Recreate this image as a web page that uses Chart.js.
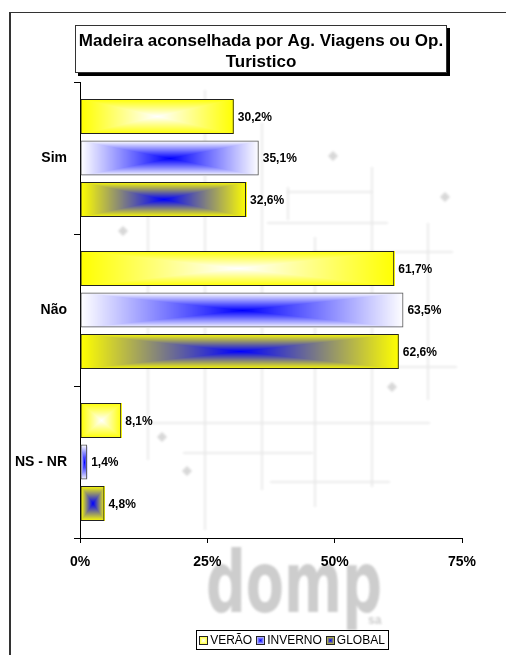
<!DOCTYPE html>
<html lang="pt">
<head>
<meta charset="utf-8">
<title>Madeira aconselhada por Ag. Viagens ou Op. Turistico</title>
<script src="https://cdn.jsdelivr.net/npm/chart.js@4.4.1/dist/chart.umd.min.js"></script>
<style>
  html, body { margin: 0; padding: 0; background: #fff; }
  #grafico { display: block; }
</style>
</head>
<body>
<canvas id="grafico" width="506" height="655"></canvas>
<script>
// dados do inquérito (%)
const categorias = ["Sim", "Não", "NS - NR"];
const series = ["VERÃO", "INVERNO", "GLOBAL"];
const verao = [30.2, 61.7, 8.1];
const inverno = [35.1, 63.5, 1.4];
const valoresGlobal = [32.6, 62.6, 4.8];
const ticksX = [0, 25, 50, 75];
const tituloLinhas = ["Madeira aconselhada por Ag. Viagens ou Op.", "Turistico"];

// cores do preenchimento "do centro" (borda -> centro)
const AMARELO = [255, 255, 0];
const BRANCO = [255, 255, 255];
const AZUL = [0, 0, 255];
const estilos = [
  { borda: AMARELO, centro: BRANCO, linha: "#222" },
  { borda: BRANCO, centro: AZUL, linha: "#555" },
  { borda: AMARELO, centro: AZUL, linha: "#222" }
];
const FONTE = "'Liberation Sans', Arial, sans-serif";

// preenche um rectângulo com gradiente rectangular a partir do centro
function preencherRetangulo(ctx, x, y, w, h, corBorda, corCentro) {
  w = Math.round(w);
  h = Math.round(h);
  if (w < 1 || h < 1) return;
  const off = document.createElement("canvas");
  off.width = w;
  off.height = h;
  const octx = off.getContext("2d");
  const img = octx.createImageData(w, h);
  for (let j = 0; j < h; j++) {
    const v = Math.abs(j + 0.5 - h / 2) / (h / 2);
    for (let i = 0; i < w; i++) {
      const u = Math.abs(i + 0.5 - w / 2) / (w / 2);
      const t = Math.min(1, Math.max(u, v));
      const k = (j * w + i) * 4;
      img.data[k] = corCentro[0] + (corBorda[0] - corCentro[0]) * t;
      img.data[k + 1] = corCentro[1] + (corBorda[1] - corCentro[1]) * t;
      img.data[k + 2] = corCentro[2] + (corBorda[2] - corCentro[2]) * t;
      img.data[k + 3] = 255;
    }
  }
  octx.putImageData(img, 0, 0);
  ctx.drawImage(off, Math.round(x), Math.round(y));
}

function formatarPct(v) {
  return v.toFixed(1).replace(".", ",") + "%";
}

// marca de água (planta e logótipo) + caixa do título
const fundo = {
  id: "fundo",
  beforeDraw(chart) {
    const ctx = chart.ctx;
    ctx.save();
    ctx.fillStyle = "#fff";
    ctx.fillRect(0, 0, chart.width, chart.height);

    // planta esbatida
    ctx.filter = "blur(0.8px)";
    ctx.strokeStyle = "#e6e6e6";
    ctx.lineWidth = 1.5;
    const linhas = [
      [205, 90, 205, 530], [262, 123, 262, 490], [148, 213, 148, 460],
      [315, 237, 315, 507], [372, 167, 372, 487], [428, 223, 428, 400],
      [288, 187, 288, 220], [287, 192, 372, 192], [267, 223, 388, 223],
      [313, 252, 453, 252], [267, 367, 457, 367], [147, 423, 430, 423],
      [183, 453, 313, 453], [270, 482, 390, 482]
    ];
    linhas.forEach(([x1, y1, x2, y2]) => {
      ctx.beginPath();
      ctx.moveTo(x1, y1);
      ctx.lineTo(x2, y2);
      ctx.stroke();
    });
    ctx.fillStyle = "#d8d8d8";
    [[333, 156], [123, 231], [445, 197], [392, 387], [187, 471], [162, 437]].forEach(([x, y]) => {
      ctx.beginPath();
      ctx.moveTo(x, y - 5);
      ctx.lineTo(x + 5, y);
      ctx.lineTo(x, y + 5);
      ctx.lineTo(x - 5, y);
      ctx.closePath();
      ctx.fill();
    });

    // logótipo
    ctx.fillStyle = "#cdcdcd";
    ctx.font = "bold 86px 'DejaVu Sans', sans-serif";
    ctx.textBaseline = "alphabetic";
    const largLogo = ctx.measureText("domp").width;
    ctx.save();
    ctx.translate(206, 612);
    ctx.scale(176 / largLogo, 1);
    ctx.fillText("domp", 0, 0);
    ctx.restore();
    ctx.font = "bold 12px " + FONTE;
    ctx.fillText("sa", 368, 624);
    ctx.filter = "none";

    // moldura exterior
    ctx.strokeStyle = "#333";
    ctx.lineWidth = 1;
    ctx.beginPath();
    ctx.moveTo(9, 12.5);
    ctx.lineTo(chart.width, 12.5);
    ctx.stroke();
    ctx.lineWidth = 2;
    ctx.beginPath();
    ctx.moveTo(10, 12);
    ctx.lineTo(10, chart.height);
    ctx.stroke();

    // caixa do título com sombra
    const bx = 75, by = 25, bw = 372, bh = 48;
    ctx.fillStyle = "#000";
    ctx.fillRect(bx + 3, by + 3, bw, bh);
    ctx.fillStyle = "#fff";
    ctx.fillRect(bx, by, bw, bh);
    ctx.strokeStyle = "#333";
    ctx.lineWidth = 1;
    ctx.strokeRect(bx + 0.5, by + 0.5, bw - 1, bh - 1);
    ctx.fillStyle = "#000";
    ctx.font = "bold 17px " + FONTE;
    ctx.textAlign = "center";
    ctx.textBaseline = "middle";
    tituloLinhas.forEach((t, i) => ctx.fillText(t, bx + bw / 2, 41 + i * 21));
    ctx.restore();
  }
};

// barras com gradiente rectangular (o contorno é desenhado pelo Chart.js)
const gradienteBarras = {
  id: "gradienteBarras",
  beforeDatasetsDraw(chart) {
    const ctx = chart.ctx;
    chart.data.datasets.forEach((ds, i) => {
      const meta = chart.getDatasetMeta(i);
      const est = estilos[i];
      meta.data.forEach((el) => {
        const p = el.getProps(["x", "y", "base", "height"], true);
        const left = Math.min(p.base, p.x);
        const w = Math.abs(p.x - p.base);
        preencherRetangulo(ctx, left, p.y - p.height / 2, w, p.height, est.borda, est.centro);
      });
    });
  },
  afterDatasetsDraw(chart) {
    const ctx = chart.ctx;
    ctx.save();
    ctx.fillStyle = "#000";
    ctx.font = "bold 12px " + FONTE;
    ctx.textAlign = "left";
    ctx.textBaseline = "middle";
    chart.data.datasets.forEach((ds, i) => {
      chart.getDatasetMeta(i).data.forEach((el, j) => {
        ctx.fillText(formatarPct(ds.data[j]), el.x + 4, el.y + 1);
      });
    });
    ctx.restore();
  }
};

// legenda em caixa, por baixo do eixo
const legendaCaixa = {
  id: "legendaCaixa",
  afterDraw(chart) {
    const ctx = chart.ctx;
    ctx.save();
    ctx.font = "12px " + FONTE;
    ctx.textBaseline = "middle";
    ctx.textAlign = "left";
    const caixa = 9, gapTexto = 2, gapItem = 4, margem = 3;
    const larguras = series.map((s) => ctx.measureText(s).width);
    let total = margem * 2;
    larguras.forEach((w, i) => { total += caixa + gapTexto + w + (i < larguras.length - 1 ? gapItem : 0); });
    const cx = 292, cy = 640;
    let x = cx - total / 2;
    ctx.strokeStyle = "#000";
    ctx.lineWidth = 1;
    ctx.strokeRect(Math.round(x) + 0.5, cy - 9.5, Math.round(total), 19);
    x += margem;
    series.forEach((s, i) => {
      const est = estilos[i];
      const sy = Math.round(cy - caixa / 2);
      preencherRetangulo(ctx, x, sy, caixa, caixa, est.borda, est.centro);
      ctx.strokeStyle = "#222";
      ctx.strokeRect(Math.round(x) + 0.5, sy + 0.5, caixa - 1, caixa - 1);
      x += caixa + gapTexto;
      ctx.fillStyle = "#000";
      ctx.fillText(s, x, cy + 0.5);
      x += larguras[i] + gapItem;
    });
    ctx.restore();
  }
};

const ctx = document.getElementById("grafico").getContext("2d");
new Chart(ctx, {
  type: "bar",
  data: {
    labels: categorias,
    datasets: [verao, inverno, valoresGlobal].map((dados, i) => ({
      label: series[i],
      data: dados,
      backgroundColor: "rgba(0,0,0,0)",
      borderColor: estilos[i].linha,
      borderWidth: 1,
      borderSkipped: false,
      categoryPercentage: 0.82,
      barPercentage: 0.84
    }))
  },
  options: {
    indexAxis: "y",
    responsive: false,
    animation: false,
    devicePixelRatio: 1,
    layout: { padding: { left: 10, right: 44, top: 82, bottom: 37 } },
    plugins: {
      legend: { display: false },
      title: { display: false },
      tooltip: { enabled: false }
    },
    scales: {
      x: {
        min: 0,
        max: 75,
        afterBuildTicks: (s) => { s.ticks = ticksX.map((v) => ({ value: v })); },
        afterFit: (s) => { s.height = 80; },
        grid: { drawOnChartArea: false, tickLength: 5, color: "#000" },
        border: { color: "#000" },
        ticks: {
          padding: 11,
          color: "#000",
          maxRotation: 0,
          font: { family: FONTE, weight: "bold", size: 14 },
          callback: (v) => v + "%"
        }
      },
      y: {
        afterFit: (s) => { s.width = 70; },
        grid: { drawOnChartArea: false, tickLength: 6, color: "#000" },
        border: { color: "#000" },
        ticks: {
          padding: 7,
          color: "#000",
          font: { family: FONTE, weight: "bold", size: 14 }
        }
      }
    }
  },
  plugins: [fundo, gradienteBarras, legendaCaixa]
});
</script>
</body>
</html>
